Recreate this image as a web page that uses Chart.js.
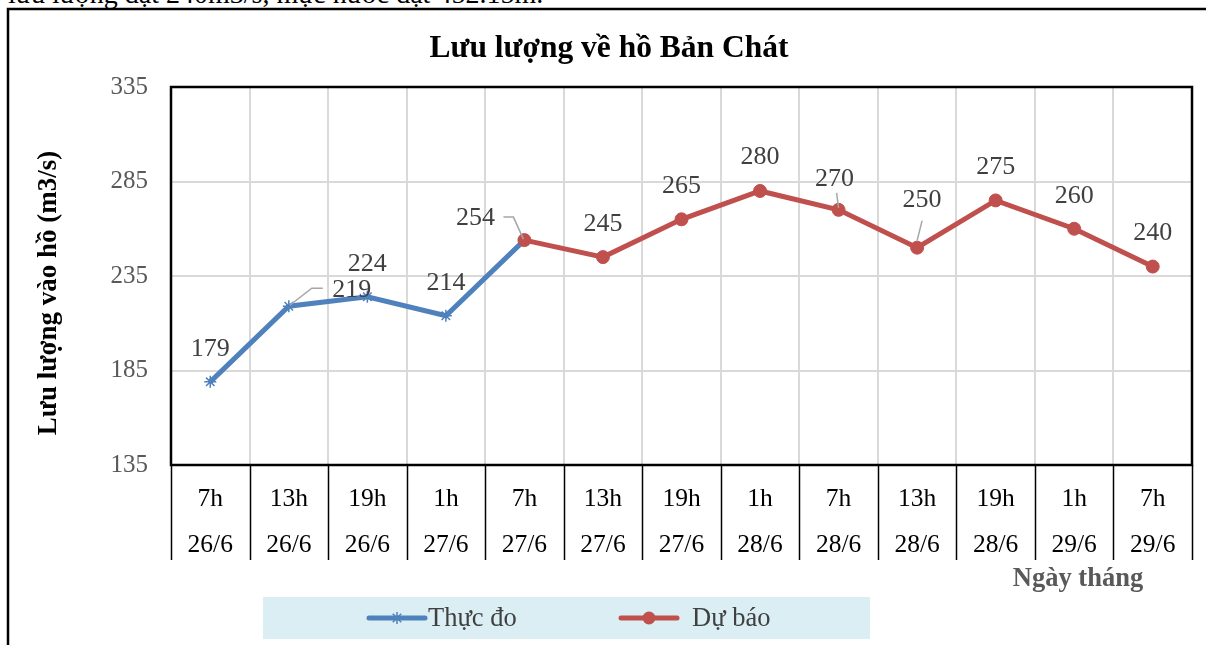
<!DOCTYPE html>
<html><head><meta charset="utf-8">
<script src="https://cdn.jsdelivr.net/npm/chart.js@4.4.0/dist/chart.umd.min.js"></script>
<style>
html,body{margin:0;padding:0;background:#fff;width:1206px;height:645px;overflow:hidden;}
#wrap{position:relative;width:1206px;height:645px;}
#doc{position:absolute;left:8px;top:-22px;font-family:'Liberation Serif',serif;font-size:28px;white-space:nowrap;color:#000;}
canvas{position:absolute;left:0;top:0;}
</style></head><body>
<div id="wrap">
<div id="doc">lưu lượng đạt 240m3/s, mực nước đạt 452.15m.</div>
<canvas id="c" width="1206" height="645"></canvas>
</div>
<script>
// ---- data ----
const hours = ["7h","13h","19h","1h","7h","13h","19h","1h","7h","13h","19h","1h","7h"];
const dates = ["26/6","26/6","26/6","27/6","27/6","27/6","27/6","28/6","28/6","28/6","28/6","29/6","29/6"];
const measured = [179,219,224,214,254,null,null,null,null,null,null,null,null];
const forecast = [null,null,null,null,254,245,265,280,270,250,275,260,240];
const yTicks = [135,185,235,285,335];
const seriesNames = ["Thực đo","Dự báo"];
const chartTitle = "Lưu lượng về hồ Bản Chát";
const yTitle = "Lưu lượng vào hồ (m3/s)";
const xTitle = "Ngày tháng";

// ---- label placement (styling only) ----
const labelOffsets = [[0,-33],[63,-16],[0,-33],[0,-33],[-49,-22],[0,-33],[0,-33],[0,-34],[-4,-31],[5,-47],[0,-33],[0,-33],[0,-33]];
const leaders = {1:[[1,-1],[23,-18],[34,-18]], 4:[[-1,-1],[-11,-23],[-21,-23]], 8:[[0,-2],[-2,-17]], 9:[[0,-7],[5,-27]]};

const BLUE = '#4F81BD', RED = '#C0504D';
const FONT = "'Liberation Serif', 'Times New Roman', serif";
const categories = hours.map((h,i)=>[h, dates[i]]);

const decor = {
  id:'decor',
  beforeDatasetsDraw(chart){
    const {ctx, chartArea:a} = chart;
    const xs = chart.scales.x;
    ctx.save();
    ctx.strokeStyle = '#000'; ctx.lineWidth = 2.5;
    ctx.strokeRect(a.left, a.top, a.right-a.left, a.bottom-a.top);
    const step = xs.getPixelForValue(1) - xs.getPixelForValue(0);
    ctx.lineWidth = 1.5;
    for (let i=0;i<=categories.length;i++){
      const x = Math.round(xs.getPixelForValue(0) - step/2 + i*step);
      ctx.beginPath(); ctx.moveTo(x+0.5, a.bottom); ctx.lineTo(x+0.5, a.bottom+95); ctx.stroke();
    }
    ctx.restore();
  },
  afterDraw(chart){
    const {ctx} = chart;
    ctx.save();
    ctx.strokeStyle='#000'; ctx.lineWidth=2.5;
    ctx.beginPath(); ctx.moveTo(8, 645); ctx.lineTo(8, 9); ctx.lineTo(1206, 9); ctx.stroke();
    ctx.fillStyle='#000'; ctx.textAlign='center'; ctx.textBaseline='middle';
    ctx.font = "bold 31.5px " + FONT;
    ctx.fillText(chartTitle, 609, 49);
    ctx.save();
    ctx.translate(49, 293); ctx.rotate(-Math.PI/2);
    ctx.font = "bold 27px " + FONT;
    ctx.fillText(yTitle, 0, 0);
    ctx.restore();
    ctx.fillStyle='#595959';
    ctx.font = "bold 26.5px " + FONT;
    ctx.fillText(xTitle, 1078, 579);
    // legend
    ctx.fillStyle='#DAEEF3';
    ctx.fillRect(263, 597, 607, 42);
    const ly = 618;
    const ds = chart.data.datasets;
    const items = [{ds:ds[1], x0:369, x1:425, tx:428}, {ds:ds[0], x0:621, x1:677, tx:692}];
    items.forEach((it)=>{
      const cx = (it.x0+it.x1)/2;
      ctx.strokeStyle = it.ds.borderColor; ctx.lineWidth = 5; ctx.lineCap='round';
      ctx.beginPath(); ctx.moveTo(it.x0, ly); ctx.lineTo(it.x1, ly); ctx.stroke();
      if (it.ds.pointStyle==='circle'){ ctx.fillStyle = it.ds.borderColor; ctx.beginPath(); ctx.arc(cx, ly, it.ds.pointRadius, 0, Math.PI*2); ctx.fill(); }
      else { ctx.strokeStyle = it.ds.borderColor; ctx.lineWidth=1.5; ctx.lineCap='butt'; Chart.helpers.drawPoint(ctx,{pointStyle:'star',radius:6,borderWidth:1.5},cx, ly); }
      ctx.fillStyle='#404040'; ctx.textAlign='left'; ctx.textBaseline='middle';
      ctx.font = "26.5px " + FONT;
      ctx.fillText(it.ds.label, it.tx, ly+1);
    });
    // data labels
    const mRed = chart.getDatasetMeta(0), mBlue = chart.getDatasetMeta(1);
    ctx.font = "26px " + FONT; ctx.textAlign='center'; ctx.textBaseline='middle';
    for (let i=0;i<categories.length;i++){
      const useRed = forecast[i] !== null;
      const v = useRed ? forecast[i] : measured[i];
      const el = (useRed ? mRed : mBlue).data[i];
      const px = el.x, py = el.y;
      if (leaders[i]){
        ctx.strokeStyle='#A6A6A6'; ctx.lineWidth=1.5; ctx.lineCap='butt';
        ctx.beginPath();
        leaders[i].forEach((p,k)=>{ if(k===0) ctx.moveTo(px+p[0], py+p[1]); else ctx.lineTo(px+p[0], py+p[1]); });
        ctx.stroke();
      }
      ctx.fillStyle='#404040';
      ctx.fillText(String(v), px+labelOffsets[i][0], py+labelOffsets[i][1]);
    }
    ctx.restore();
  }
};

new Chart(document.getElementById('c'), {
  type:'line',
  data:{
    labels: categories,
    datasets:[
      {label: seriesNames[1], data: forecast, borderColor: RED, backgroundColor: RED, borderWidth: 5,
       pointStyle:'circle', pointRadius:6.5, pointBorderWidth:1, pointBackgroundColor: RED, pointBorderColor: RED, order:0, spanGaps:false},
      {label: seriesNames[0], data: measured, borderColor: BLUE, backgroundColor: BLUE, borderWidth: 5,
       pointStyle:'star', pointRadius:6, pointBorderWidth:1.5, pointBorderColor: BLUE, order:1, spanGaps:false}
    ]
  },
  options:{
    responsive:false, animation:false, devicePixelRatio:1,
    layout:{padding:{top:87, right:14, left:0, bottom:0}},
    plugins:{legend:{display:false}, title:{display:false}, tooltip:{enabled:false}},
    scales:{
      x:{
        type:'category', offset:true,
        grid:{offset:true, color:'#D9D9D9', lineWidth:2, drawTicks:false},
        border:{display:false},
        ticks:{padding:11, color:'#000', maxRotation:0, autoSkip:false,
               font:{family:FONT, size:25.5, lineHeight:46/25.5}},
        afterFit(s){ s.height = 180; }
      },
      y:{
        min:135, max:335,
        afterBuildTicks(s){ s.ticks = yTicks.map(v=>({value:v})); },
        grid:{color:'#D9D9D9', lineWidth:2, drawTicks:false},
        border:{display:false},
        ticks:{padding:23, color:'#595959', font:{family:FONT, size:25}},
        afterFit(s){ s.width = 171; }
      }
    }
  },
  plugins:[decor]
});
</script>
</body></html>
